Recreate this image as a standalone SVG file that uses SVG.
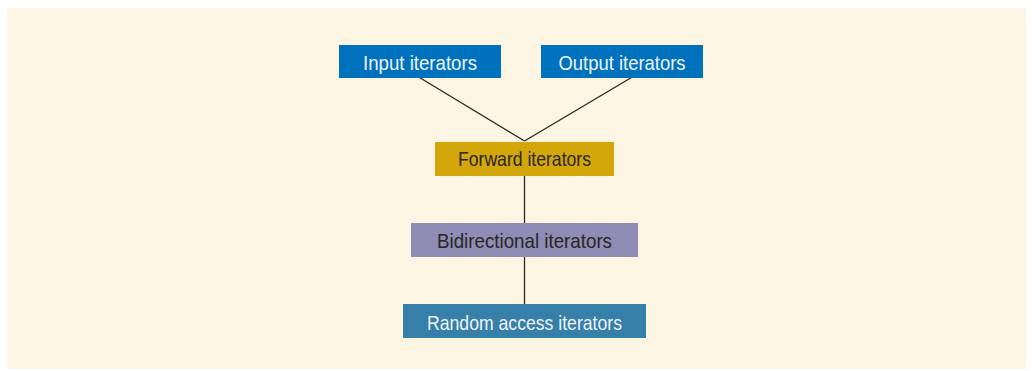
<svg xmlns="http://www.w3.org/2000/svg" width="1032" height="371" viewBox="0 0 1032 371">
<style>
.lbl{font-family:"Liberation Sans","DejaVu Sans",sans-serif;font-size:21px;text-anchor:middle;}
.light{fill:#EEF3F8;}
.dark{fill:#2B2622;}
.edge{stroke:#2B2622;stroke-width:1.3;fill:none;}
</style>
<rect x="0" y="0" width="1032" height="371" fill="#FFFFFF"/>
<rect x="7" y="8" width="1019" height="361" fill="#FDF5E4"/>
<g id="connectors">
<line class="edge" x1="419.5" y1="77.5" x2="524.5" y2="141"/>
<line class="edge" x1="631.5" y1="77.5" x2="524.5" y2="141"/>
<line class="edge" x1="524.5" y1="176" x2="524.5" y2="223"/>
<line class="edge" x1="524.5" y1="257" x2="524.5" y2="304"/>
</g>
<g id="input">
<rect x="339" y="45" width="162" height="33" fill="#0071BD"/>
<text class="lbl light" x="420" y="70" textLength="114" lengthAdjust="spacingAndGlyphs">Input iterators</text>
</g>
<g id="output">
<rect x="541" y="45" width="162" height="33" fill="#0071BD"/>
<text class="lbl light" x="622" y="70" textLength="127" lengthAdjust="spacingAndGlyphs">Output iterators</text>
</g>
<g id="forward">
<rect x="435" y="142" width="179" height="34" fill="#D3A70A"/>
<text class="lbl dark" x="524.5" y="166" textLength="133" lengthAdjust="spacingAndGlyphs">Forward iterators</text>
</g>
<g id="bidirectional">
<rect x="411" y="223" width="227" height="34" fill="#8F8CB5"/>
<text class="lbl dark" x="524.5" y="247.5" textLength="175" lengthAdjust="spacingAndGlyphs">Bidirectional iterators</text>
</g>
<g id="random">
<rect x="403" y="304" width="243" height="34" fill="#367FA8"/>
<text class="lbl light" x="524.5" y="329.5" textLength="195" lengthAdjust="spacingAndGlyphs">Random access iterators</text>
</g>
</svg>
